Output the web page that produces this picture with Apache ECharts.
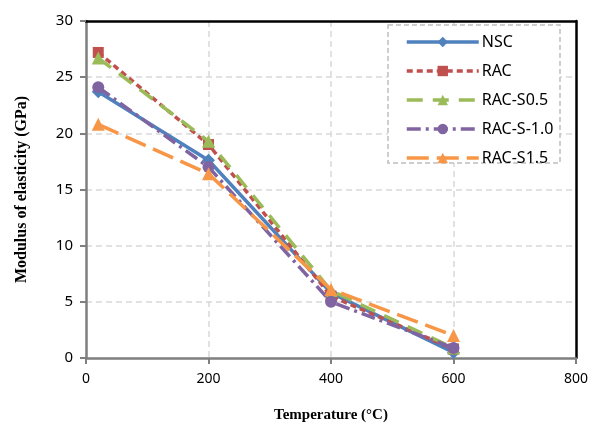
<!DOCTYPE html>
<html><head><meta charset="utf-8">
<script src="https://cdn.jsdelivr.net/npm/echarts@6/dist/echarts.min.js"></script>
<style>html,body{margin:0;padding:0;background:#fff}#c{width:601px;height:427px}</style>
</head><body><div id="c"></div>
<script>
const temperatures = [20, 200, 400, 600];
const seriesNames = ['NSC', 'RAC', 'RAC-S0.5', 'RAC-S-1.0', 'RAC-S1.5'];
const nsc = [23.7, 17.6, 5.8, 0.5];
const rac = [27.2, 19.0, 5.5, 0.8];
const racS05 = [26.7, 19.3, 6.0, 0.9];
const racS10 = [24.1, 17.0, 5.0, 0.9];
const racS15 = [20.8, 16.4, 6.1, 2.0];
const xTicks = [0, 200, 400, 600, 800];
const yTicks = [0, 5, 10, 15, 20, 25, 30];

const values = [nsc, rac, racS05, racS10, racS15];
const styles = [
  {color:'#4F81BD', symbol:'diamond', size:13, type:'solid'},
  {color:'#C0504D', symbol:'rect', size:11, type:[6,4]},
  {color:'#9BBB59', symbol:'triangle', size:13, type:[16,10]},
  {color:'#8064A2', symbol:'circle', size:12, type:[14,5,3,5]},
  {color:'#F79646', symbol:'triangle', size:13, type:[22,8]}
];
const gridLine = {show:true,showMinLine:false,showMaxLine:false,lineStyle:{color:'#d9d9d9',type:[6,4],width:1.5}};
const chart = echarts.init(document.getElementById('c'), null, {renderer:'canvas'});
chart.setOption({
  animation:false,
  backgroundColor:'#fff',
  grid:{left:86,right:25,top:21,bottom:69,containLabel:false,outerBoundsMode:'none'},
  graphic:[{type:'rect',shape:{x:388,y:25,width:172,height:138},style:{fill:'#fff',stroke:'#bfbfbf',lineWidth:1.5,lineDash:[5,3]},z:5}],
  legend:{
    data:seriesNames, orient:'vertical', left:400, top:29,
    itemWidth:72, itemHeight:13, itemGap:13, z:10,
    lineStyle:{width:3.5},
    textStyle:{fontFamily:'Noto Sans',fontSize:16,color:'#000',padding:[0,0,0,-2]}
  },
  xAxis:[{
    type:'value', min:0, max:800, interval:200,
    name:'Temperature (°C)', nameLocation:'middle', nameGap:50,
    nameTextStyle:{fontFamily:'Liberation Serif',fontWeight:'bold',fontSize:15,color:'#000'},
    axisLine:{show:true,onZero:false,lineStyle:{color:'#7f7f7f',width:2.5}},
    axisTick:{show:true,length:6,lineStyle:{color:'#7f7f7f',width:2}},
    axisLabel:{fontFamily:'Noto Sans',fontSize:14,color:'#000',margin:14,formatter:v=>xTicks.includes(v)?String(v):''},
    splitLine:gridLine
  },{
    type:'value', min:0, max:800, interval:200, position:'top',
    axisLine:{show:true,onZero:false,lineStyle:{color:'#000',width:2.5}},
    axisTick:{show:false}, axisLabel:{show:false}, splitLine:{show:false}
  }],
  yAxis:[{
    type:'value', min:0, max:30, interval:5,
    name:'Modulus of elasticity (GPa)', nameLocation:'middle', nameGap:56, nameRotate:90,
    nameTextStyle:{fontFamily:'Liberation Serif',fontWeight:'bold',fontSize:16,color:'#000'},
    axisLine:{show:true,onZero:false,lineStyle:{color:'#7f7f7f',width:2.5}},
    axisTick:{show:true,length:6,lineStyle:{color:'#7f7f7f',width:2}},
    axisLabel:{fontFamily:'Noto Sans',fontSize:15,color:'#000',margin:13,formatter:v=>yTicks.includes(v)?String(v):''},
    splitLine:gridLine
  },{
    type:'value', min:0, max:30, interval:5, position:'right',
    axisLine:{show:true,onZero:false,lineStyle:{color:'#000',width:2.5}},
    axisTick:{show:false}, axisLabel:{show:false}, splitLine:{show:false}
  }],
  series: seriesNames.map((n,i)=>({
    name:n, type:'line',
    data: temperatures.map((t,j)=>[t, values[i][j]]),
    symbol:styles[i].symbol, symbolSize:styles[i].size,
    itemStyle:{color:styles[i].color},
    lineStyle:{color:styles[i].color,width:3.5,type:styles[i].type},
    z:2+i
  }))
});
</script></body></html>
